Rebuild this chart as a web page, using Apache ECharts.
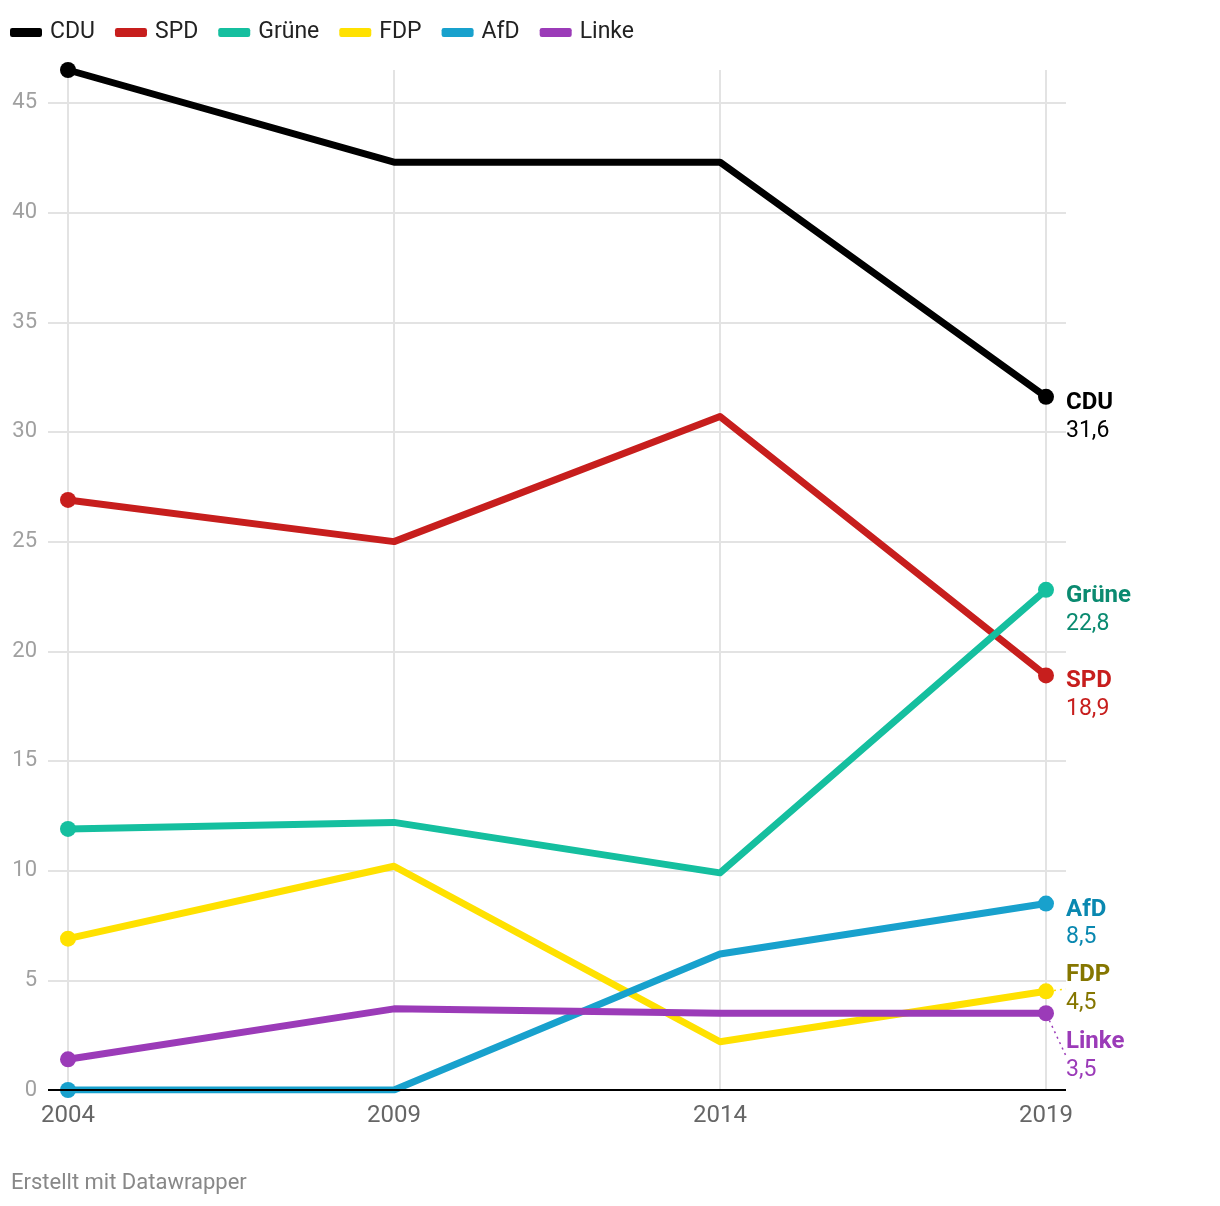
<!DOCTYPE html>
<html>
<head>
<meta charset="utf-8">
<script src="https://cdn.jsdelivr.net/npm/echarts@6/dist/echarts.min.js"></script>
<style>
html,body{margin:0;padding:0;background:#fff;}
#chart{width:1220px;height:1206px;}
</style>
</head>
<body>
<div id="chart"></div>
<script>
const years = [2004, 2009, 2014, 2019];
const yTicks = [0, 5, 10, 15, 20, 25, 30, 35, 40, 45];
const parties = ['CDU', 'SPD', 'Grüne', 'FDP', 'AfD', 'Linke'];
const CDU   = [46.5, 42.3, 42.3, 31.6];
const SPD   = [26.9, 25.0, 30.7, 18.9];
const Gruene = [11.9, 12.2, 9.9, 22.8];
const FDP   = [6.9, 10.2, 2.2, 4.5];
const AfD   = [0, 0, 6.2, 8.5];
const Linke = [1.4, 3.7, 3.5, 3.5];
const footer = 'Erstellt mit Datawrapper';

const values = [CDU, SPD, Gruene, FDP, AfD, Linke];
const lineColors = ['#000000', '#c71e1d', '#15bf9f', '#ffe100', '#18a1cd', '#9b3bb8'];
const labelColors = ['#000000', '#c71e1d', '#0a8a70', '#857600', '#0a88b0', '#9b3bb8'];
const labelShift = [0, 0, 0, -2, 0, 43];

const fontFamily = 'Roboto, "Noto Sans", sans-serif';

const series = parties.map((name, si) => {
  const vals = values[si];
  const data = years.map((yr, i) => {
    const item = { value: [yr, vals[i]] };
    if (i !== 0 && i !== years.length - 1) item.symbol = 'none';
    if (i === years.length - 1) {
      item.label = {
        show: true,
        position: 'right',
        distance: 12,
        offset: [0, 20],
        formatter: '{n|' + name + '}\n{v|' + String(vals[i]).replace('.', ',') + '}',
        rich: {
          n: { fontFamily, fontSize: 24, fontWeight: 'bold', lineHeight: 28, color: labelColors[si] },
          v: { fontFamily, fontSize: 23, lineHeight: 28, color: labelColors[si] }
        }
      };
    }
    return item;
  });
  const s = {
    name,
    type: 'line',
    data,
    symbol: 'circle',
    symbolSize: 16,
    showSymbol: true,
    color: lineColors[si],
    lineStyle: { width: 7, color: lineColors[si], cap: 'round', join: 'round' },
    itemStyle: { color: lineColors[si] },
    emphasis: { disabled: true },
    animation: false,
    z: 3
  };
  if (labelShift[si] !== 0) {
    s.labelLayout = { dy: labelShift[si] };
    s.labelLine = { show: true, length2: 0, lineStyle: { type: [2, 4], width: 1.5, color: lineColors[si] } };
  }
  return s;
});

// baseline at 0 drawn on top
series.push({
  name: '_base',
  type: 'line',
  data: [],
  silent: true,
  animation: false,
  markLine: {
    silent: true,
    symbol: 'none',
    label: { show: false },
    lineStyle: { color: '#000', width: 2, type: 'solid' },
    data: [{ yAxis: 0 }],
    z: 10
  },
  z: 10
});

// vertical grid lines
series.push({
  name: '_vgrid',
  type: 'line',
  data: [],
  silent: true,
  animation: false,
  z: 1,
  markLine: {
    silent: true,
    symbol: 'none',
    label: { show: false },
    lineStyle: { color: '#e3e3e3', width: 2, type: 'solid' },
    data: years.map(y => ({ xAxis: y })),
    z: 1
  }
});

const pxPerYear = (1046 - 68) / (years[years.length - 1] - years[0]);
const pad = 20 / pxPerYear;

const chart = echarts.init(document.getElementById('chart'), null, { renderer: 'canvas' });
chart.setOption({
  backgroundColor: '#ffffff',
  animation: false,
  textStyle: { fontFamily },
  title: {
    text: footer,
    left: 6,
    top: 1167,
    textStyle: { fontFamily, fontSize: 22, fontWeight: 'normal', color: '#888888' }
  },
  legend: {
    data: parties,
    left: 5,
    top: 16,
    icon: 'roundRect',
    itemWidth: 32,
    itemHeight: 9,
    itemGap: 20,
    selectedMode: false,
    textStyle: { fontFamily, fontSize: 23, color: '#222222', padding: [0, 0, 0, 3] }
  },
  grid: { left: 48, right: 154, top: 70, bottom: 116, containLabel: false },
  xAxis: {
    type: 'value',
    min: years[0] - pad,
    max: years[years.length - 1] + pad,
    axisLine: { show: false },
    axisTick: { show: false, customValues: years },
    splitLine: { show: false },
    axisLabel: {
      customValues: years,
      margin: 14,
      fontFamily,
      fontSize: 24,
      color: '#666666',
      formatter: v => String(Math.round(v))
    }
  },
  yAxis: {
    type: 'value',
    min: 0,
    max: 46.5,
    interval: 5,
    axisLine: { show: false },
    axisTick: { show: false },
    splitLine: { show: true, showMaxLine: false, lineStyle: { color: '#e3e3e3', width: 2 } },
    axisLabel: {
      margin: 11,
      fontFamily,
      fontSize: 22,
      color: '#a0a0a0',
      showMaxLabel: false,
      formatter: v => (yTicks.indexOf(v) >= 0 ? String(v) : '')
    }
  },
  series
});
</script>
</body>
</html>
